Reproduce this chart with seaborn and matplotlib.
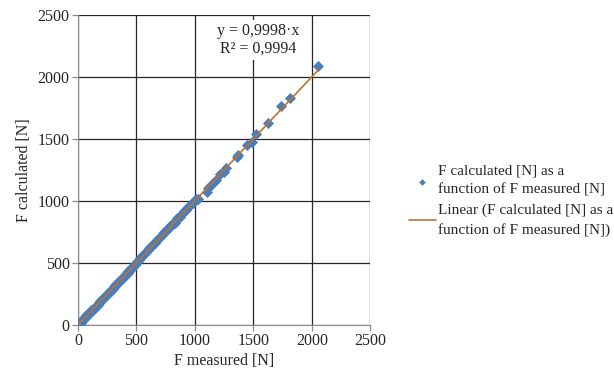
import matplotlib
matplotlib.use("Agg")
import matplotlib.pyplot as plt
import seaborn as sns
import pandas as pd

# Data
f_measured = [2, 6, 10, 14, 18, 22, 27, 32, 37, 42, 48, 54, 60, 66, 72, 78, 85, 92,
              99, 106, 113, 120, 128, 136, 144, 152, 160, 168, 176, 184, 192, 200,
              208, 216, 224, 232, 240, 248, 256, 264, 272, 280, 288, 296, 304, 312,
              320, 328, 336, 344, 352, 360, 368, 376, 384, 392, 400, 408, 416, 424,
              432, 440, 448, 456, 464, 472, 480, 488, 496, 505, 514, 523, 532, 541,
              550, 560, 570, 580, 590, 600, 610, 620, 632, 644, 656, 668, 680, 692,
              704, 716, 728, 740, 752, 764, 776, 790, 804, 818, 832, 846, 860, 875,
              890, 905, 920, 935, 950, 965, 980, 995, 1010, 1027, 1104, 1113, 1140,
              1160, 1182, 1216, 1250, 1267, 1361, 1365, 1447, 1490, 1524, 1627, 1738,
              1815, 2055]
f_calculated = [8, 2, 15, 10, 22, 18, 30, 28, 40, 38, 52, 50, 63, 62, 76, 74, 88, 90,
                103, 102, 117, 116, 132, 131, 148, 147, 164, 163, 180, 179, 196, 195,
                212, 211, 228, 227, 244, 243, 260, 259, 276, 275, 292, 291, 308, 307,
                324, 323, 340, 339, 356, 355, 372, 371, 388, 387, 404, 403, 420, 419,
                436, 435, 452, 451, 468, 467, 484, 483, 500, 509, 518, 527, 536, 545,
                555, 566, 576, 586, 597, 607, 616, 626, 640, 650, 662, 675, 686, 698,
                712, 722, 735, 748, 758, 772, 782, 798, 810, 825, 820, 860, 866, 870,
                895, 915, 925, 945, 955, 972, 985, 1000, 1012, 1016, 1073, 1105, 1130,
                1153, 1165, 1218, 1234, 1266, 1355, 1371, 1452, 1476, 1540, 1629, 1766,
                1831, 2088]
trend_slope = 0.9998
r_squared = 0.9994
x_ticks = [0, 500, 1000, 1500, 2000, 2500]
y_ticks = [0, 500, 1000, 1500, 2000, 2500]

df = pd.DataFrame({"F measured [N]": f_measured, "F calculated [N]": f_calculated})
trend_x = [0, max(f_measured)]
trend_df = pd.DataFrame({"x": trend_x, "y": [trend_slope * v for v in trend_x]})

sns.set_style("white")
plt.rcParams["font.family"] = ["Liberation Serif", "DejaVu Serif"]

fig = plt.figure(figsize=(6.14, 3.80), dpi=100)
ax = fig.add_axes([0.127, 0.145, 0.476, 0.816])

blue = "#4A7EBB"
orange = "#C0702F"

sns.scatterplot(data=df, x="F measured [N]", y="F calculated [N]", ax=ax,
                marker="D", s=32, color=blue, edgecolor=blue, linewidth=0,
                label="F calculated [N] as a\nfunction of F measured [N]", zorder=3)
sns.lineplot(data=trend_df, x="x", y="y", ax=ax, color=orange, linewidth=1.2,
             label="Linear (F calculated [N] as a\nfunction of F measured [N])", zorder=4)

ax.set_xlim(0, 2500)
ax.set_ylim(0, 2500)
ax.set_xticks(x_ticks)
ax.set_yticks(y_ticks)
ax.grid(True, color="#262626", linewidth=0.9)
ax.set_axisbelow(True)
for side in ["left", "bottom"]:
    ax.spines[side].set_color("#8c8c8c")
for side in ["top", "right"]:
    ax.spines[side].set_visible(False)
ax.tick_params(axis="both", which="both", direction="out", length=4, width=0.9,
               color="#8c8c8c", labelsize=11.5, labelcolor="#262626", pad=2,
               bottom=True, left=True)
ax.set_xlabel("F measured [N]", fontsize=11.5, color="#262626", labelpad=3)
ax.set_ylabel("F calculated [N]", fontsize=11.5, color="#262626", labelpad=4)

ax.text(1541, 2298, "y = 0,9998·x\nR² = 0,9994", ha="center", va="center",
        fontsize=11.5, color="#262626", linespacing=1.2,
        bbox=dict(facecolor="white", edgecolor="none", pad=2), zorder=5)

leg = ax.legend(loc="center left", bbox_to_anchor=(1.11, 0.40), frameon=False,
                prop={"family": ["Liberation Serif"], "size": 11},
                handlelength=1.8, handletextpad=0.1,
                labelspacing=0.45, borderaxespad=0.0, markerscale=0.6)
for t in leg.get_texts():
    t.set_color("#262626")
    t.set_linespacing(1.55)

fig.savefig("out.png", dpi=100)
